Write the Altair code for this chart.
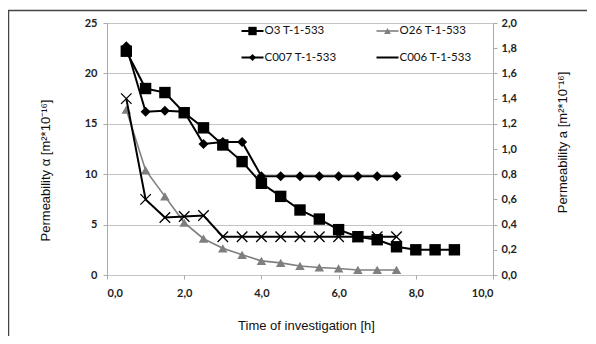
import altair as alt
import pandas as pd

# ---- data ----
hours_o3 = [0.5, 1.0, 1.5, 2.0, 2.5, 3.0, 3.5, 4.0, 4.5, 5.0, 5.5, 6.0, 6.5, 7.0, 7.5, 8.0, 8.5, 9.0]
o3_values = [22.2, 18.5, 18.1, 16.1, 14.6, 12.9, 11.25, 9.1, 7.8, 6.45, 5.55, 4.5, 3.8, 3.5, 2.8, 2.5, 2.5, 2.5]

hours_short = [0.5, 1.0, 1.5, 2.0, 2.5, 3.0, 3.5, 4.0, 4.5, 5.0, 5.5, 6.0, 6.5, 7.0, 7.5]
o26_values = [16.4, 10.4, 7.8, 5.2, 3.6, 2.65, 2.0, 1.4, 1.2, 0.9, 0.75, 0.65, 0.5, 0.5, 0.5]
c007_values = [22.7, 16.2, 16.3, 16.2, 13.0, 13.2, 13.2, 9.8, 9.8, 9.8, 9.8, 9.8, 9.8, 9.8, 9.8]
c006_values = [17.5, 7.5, 5.7, 5.8, 5.9, 3.8, 3.8, 3.8, 3.8, 3.8, 3.8, 3.8, 3.8, 3.8, 3.8]

series_names = ["O3 T-1-533", "O26 T-1-533", "C007 T-1-533", "C006 T-1-533"]
left_ticks = [0, 5, 10, 15, 20, 25]
right_ticks = [0.0, 0.2, 0.4, 0.6, 0.8, 1.0, 1.2, 1.4, 1.6, 1.8, 2.0]
x_ticks = [0, 2, 4, 6, 8, 10]
right_ratio = 12.5  # left units per right unit

LABEL_FONT = "Lato"
TITLE_FONT = "Liberation Sans"
X_PATH = "M-1,-1L1,1M1,-1L-1,1"

def frame(hours, values, name):
    return pd.DataFrame({"hour": hours, "value": values, "series": name})

df_o3 = frame(hours_o3, o3_values, series_names[0])
df_o26 = frame(hours_short, o26_values, series_names[1])
df_c007 = frame(hours_short, c007_values, series_names[2])
df_c006 = frame(hours_short, c006_values, series_names[3])

comma = "replace(format(datum.value, '.1f'), '.', ',')"

x_enc = alt.X("hour:Q", scale=alt.Scale(domain=[0, 10], nice=False),
              axis=alt.Axis(values=x_ticks, labelExpr=comma, grid=False,
                            title="Time of investigation [h]",
                            titleFont=TITLE_FONT, titleFontSize=13, titleFontWeight="normal",
                            titleX=199, titleY=50, titleAnchor="middle", titleBaseline="middle",
                            titleColor="#111",
                            labelFont=LABEL_FONT, labelFontSize=11, labelFontWeight="bold",
                            labelColor="#222", labelPadding=8,
                            domain=False, ticks=True, tickSize=4, tickColor="#aaa"))

y_enc = alt.Y("value:Q", scale=alt.Scale(domain=[0, 25], nice=False),
              axis=alt.Axis(values=left_ticks, grid=True, gridColor="#c4c4c4", gridWidth=1.2,
                            title="Permeability α [m²*10⁻¹⁶]",
                            titleFont=TITLE_FONT, titleFontSize=13, titleFontWeight="normal",
                            titleAngle=-90, titleX=-62, titleY=147, titleAlign="center",
                            titleBaseline="middle", titleColor="#111",
                            labelFont=LABEL_FONT, labelFontSize=11, labelFontWeight="bold",
                            labelColor="#222", labelPadding=6,
                            domain=True, domainColor="#aaa", tickColor="#aaa", tickSize=4))

def series_layers(df, color, shape, size, filled, line_width, stroke_width=1):
    base = alt.Chart(df)
    line = base.mark_line(color=color, strokeWidth=line_width).encode(x=x_enc, y=y_enc)
    pt = base.mark_point(shape=shape, size=size, filled=filled, color=color,
                         strokeWidth=stroke_width, opacity=1).encode(x=x_enc, y=y_enc)
    return [line, pt]

layers = []
layers += series_layers(df_o26, "#7f7f7f", "triangle-up", 90, True, 1.6)
layers += series_layers(df_c006, "#000000", X_PATH, 110, False, 2, 1.3)
layers += series_layers(df_c007, "#000000", "diamond", 100, True, 2)
layers += series_layers(df_o3, "#000000", "square", 130, True, 2)

# ---- manual legend (two columns, two rows) ----
legend_specs = [
    (series_names[0], 0, 0, "#000000", "square", 70, True, 2),
    (series_names[1], 1, 0, "#7f7f7f", "triangle-up", 45, True, 1.6),
    (series_names[2], 0, 1, "#000000", "diamond", 50, True, 2),
    (series_names[3], 1, 1, "#000000", "stroke", 40, False, 2),
]
col_x = [134.5, 269.5]
row_y = [8, 34.5]
leg_base = alt.Chart(pd.DataFrame({"a": [0]}))
for name, c, r, color, shape, size, filled, lw in legend_specs:
    x0 = col_x[c]
    y0 = row_y[r]
    layers.append(leg_base.mark_rule(color=color, strokeWidth=lw).encode(
        x=alt.value(x0), x2=alt.value(x0 + 22), y=alt.value(y0)))
    if shape != "stroke":
        layers.append(leg_base.mark_point(shape=shape, size=size, filled=filled, color=color,
                                          opacity=1).encode(x=alt.value(x0 + 11), y=alt.value(y0)))
    layers.append(leg_base.mark_text(align="left", baseline="middle", font=LABEL_FONT,
                                     fontSize=11.5, color="#111").encode(
        x=alt.value(x0 + 23), y=alt.value(y0), text=alt.value(name)))

# outer frame (left and top edges)
layers.append(leg_base.mark_rule(color="#444", strokeWidth=1.5).encode(
    x=alt.value(-98.5), y=alt.value(-12.5), y2=alt.value(320)))
layers.append(leg_base.mark_rule(color="#444", strokeWidth=1.5).encode(
    x=alt.value(-99), x2=alt.value(480), y=alt.value(-12.5)))

left = alt.layer(*layers)

# right axis (0-2.0 scale equivalent)
right = alt.Chart(df_o3).transform_calculate(
    right_value=f"datum.value / {right_ratio}"
).mark_point(opacity=0).encode(
    x=x_enc,
    y=alt.Y("right_value:Q", scale=alt.Scale(domain=[0, 2], nice=False),
            axis=alt.Axis(orient="right", values=right_ticks, labelExpr=comma, grid=False,
                          title="Permeability a [m²*10⁻¹⁶]",
                          titleFont=TITLE_FONT, titleFontSize=13, titleFontWeight="normal",
                          titleAngle=-90, titleX=69, titleY=119, titleAlign="center",
                          titleBaseline="middle", titleColor="#111",
                          labelFont=LABEL_FONT, labelFontSize=11, labelFontWeight="bold",
                          labelColor="#222", labelPadding=4,
                          domain=True, domainColor="#aaa", tickColor="#aaa", tickSize=4))
)

chart = alt.layer(left, right).resolve_scale(y="independent").properties(
    width=386, height=252,
    padding={"left": 99, "top": 15, "right": 95, "bottom": 61},
    autosize=alt.AutoSizeParams(type="none"),
).configure_view(stroke=None).configure(background="white")

chart.save("out.html", embed_options={"renderer": "svg", "actions": False})
